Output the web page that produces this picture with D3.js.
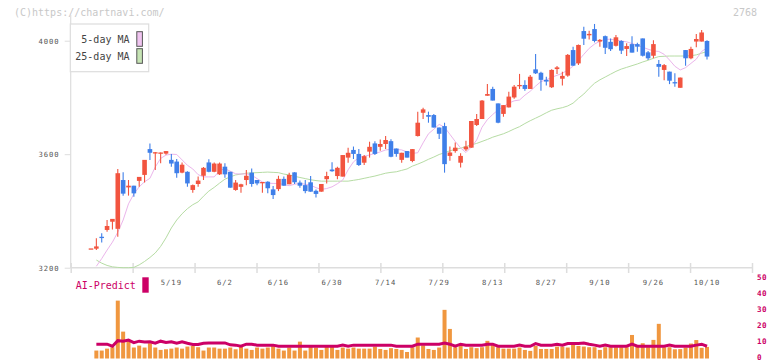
<!DOCTYPE html>
<html><head><meta charset="utf-8">
<script src="https://cdn.jsdelivr.net/npm/d3@7"></script>
<style>body{margin:0;background:#fff;} svg{display:block;}</style>
</head><body>
<svg id="chart" width="772" height="361"></svg>
<script>
const dates = ["4/23","4/24","4/25","4/28","4/30",
"5/1","5/2","5/7","5/8","5/9","5/12","5/13","5/14","5/15","5/16","5/19","5/20","5/21","5/22","5/23","5/26","5/27","5/28","5/29","5/30",
"6/2","6/3","6/4","6/5","6/6","6/9","6/10","6/11","6/12","6/13","6/16","6/17","6/18","6/19","6/20","6/23","6/24","6/25","6/26","6/27","6/30",
"7/1","7/2","7/3","7/4","7/7","7/8","7/9","7/10","7/11","7/14","7/15","7/16","7/17","7/18","7/22","7/23","7/24","7/25","7/28","7/29","7/30","7/31",
"8/1","8/4","8/5","8/6","8/7","8/8","8/12","8/13","8/14","8/15","8/18","8/19","8/20","8/21","8/22","8/25","8/26","8/27","8/28","8/29",
"9/1","9/2","9/3","9/4","9/5","9/8","9/9","9/10","9/11","9/12","9/16","9/17","9/18","9/19","9/22","9/24","9/25","9/26","9/29","9/30",
"10/1","10/2","10/3","10/6","10/7","10/8","10/9","10/10"];

const open = [3268,3267,3309,3333,3362,3337,3509,3483,3489,3506,
3527,3618,3605,3604,3602,3580,3574,3535,3538,3474,
3495,3524,3571,3538,3529,3556,3538,3474,3485,3509,
3535,3509,3500,3503,3476,3477,3513,3494,3536,3500,
3491,3501,3471,3468,3512,3546,3523,3521,3588,3615,
3601,3570,3609,3638,3626,3636,3646,3620,3580,3611,
3576,3664,3746,3738,3738,3694,3699,3594,3611,3570,
3617,3623,3703,3724,3806,3830,3779,3742,3765,3800,
3842,3844,3830,3899,3887,3862,3836,3900,3866,3877,
3967,3920,4034,4019,4041,3997,4016,3996,3982,3999,
3971,3988,3988,4008,3959,3947,3918,3897,3891,3854,
3834,3967,3938,3997,3997,3999];

const high = [3268,3304,3321,3368,3372,3548,3536,3509,3489,3520,
3580,3638,3608,3606,3611,3601,3583,3571,3540,3493,
3521,3555,3582,3571,3571,3568,3538,3509,3496,3544,
3550,3509,3502,3505,3488,3524,3521,3535,3536,3507,
3509,3523,3476,3495,3538,3572,3556,3597,3623,3627,
3618,3597,3644,3646,3652,3664,3653,3620,3605,3611,
3618,3750,3764,3750,3742,3694,3711,3627,3641,3603,
3647,3717,3742,3791,3847,3838,3779,3773,3820,3844,
3883,3861,3879,3953,3891,3873,3899,3911,3891,3953,
3979,3987,4049,4035,4059,4006,4018,4008,4020,4002,
3991,4016,3993,4008,3964,4002,3932,3918,3891,3885,
3870,3967,3979,4024,4038,4002];

const low = [3268,3262,3289,3327,3335,3309,3454,3454,3450,3485,
3500,3580,3544,3568,3598,3556,3517,3533,3485,3464,
3485,3509,3536,3536,3527,3517,3482,3471,3464,3491,
3485,3491,3464,3462,3442,3470,3489,3494,3495,3482,
3462,3468,3447,3468,3497,3538,3512,3521,3570,3583,
3558,3562,3588,3597,3612,3618,3589,3591,3570,3588,
3572,3662,3724,3711,3694,3654,3535,3577,3605,3553,
3611,3623,3699,3724,3806,3789,3709,3732,3765,3795,
3830,3824,3830,3883,3824,3842,3833,3883,3842,3873,
3912,3914,3985,4004,3994,3979,3953,3964,3980,3953,
3946,3958,3961,3944,3932,3938,3873,3861,3847,3838,
3834,3912,3935,3977,3997,3934];

const close = [3268,3275,3306,3347,3372,3533,3461,3489,3462,3520,
3580,3605,3607,3606,3611,3567,3533,3563,3497,3491,
3507,3552,3538,3567,3567,3529,3482,3500,3494,3524,
3495,3497,3502,3480,3456,3513,3489,3527,3501,3489,
3470,3468,3460,3495,3523,3540,3552,3597,3605,3601,
3562,3593,3626,3601,3636,3650,3591,3601,3605,3588,
3618,3711,3758,3732,3694,3672,3565,3606,3623,3594,
3627,3717,3724,3789,3812,3789,3711,3773,3803,3838,
3844,3830,3873,3885,3862,3856,3897,3906,3876,3950,
3912,3985,4007,4024,3999,4003,3975,3970,4012,3965,
3981,3958,3979,3947,3938,3988,3908,3914,3859,3852,
3870,3938,3971,4006,4029,3944];

const volume = [null,5.0,5.0,6.2,7.1,36.4,16.9,11.7,6.9,8.1,
6.9,9.6,6.9,5.4,5.8,6.2,6.9,6.2,7.5,7.9,
7.1,5.0,6.9,6.9,6.2,6.2,6.9,5.8,7.5,6.2,
5.4,6.9,6.2,6.9,8.1,6.2,5.0,6.9,5.0,10.6,
5.0,7.5,6.9,5.4,7.5,7.5,5.4,6.9,6.2,6.9,
6.2,6.2,6.2,7.5,6.0,5.4,6.5,6.0,5.4,4.1,
7.1,13.2,8.3,6.0,5.4,6.9,30.6,18.6,7.1,8.1,
6.0,7.1,6.5,7.1,11.1,8.6,7.1,6.2,6.2,6.2,
6.9,5.4,4.8,7.9,6.0,6.0,6.0,7.5,7.5,6.9,
8.6,7.9,7.5,7.1,7.1,5.4,7.1,7.1,7.1,7.1,
7.1,14.8,7.9,9.6,7.1,11.7,21.8,7.1,7.1,5.8,
5.9,6.9,9.4,11.6,6.7,7.3];

const aiPredict = [null,9.0,9.0,9.0,7.7,11.2,10.8,11.6,10.0,10.9,
10.4,10.5,9.6,10.9,10.1,10.5,9.6,10.5,9.6,8.8,
8.8,9.6,9.8,9.8,9.8,9.8,8.6,8.4,7.7,9.0,
9.0,8.4,8.4,8.4,8.4,7.7,7.7,7.7,7.7,7.7,
7.7,7.7,7.7,7.7,7.7,7.7,7.7,8.4,7.7,8.4,
8.4,8.4,8.4,8.4,8.4,8.4,8.4,7.7,7.7,7.7,
7.7,9.0,9.0,9.0,9.0,9.0,9.8,9.0,7.7,9.0,
8.4,8.4,8.4,8.4,9.0,9.0,7.7,7.7,7.7,7.7,
8.4,7.7,7.7,9.4,8.4,8.4,8.4,9.0,8.4,9.4,
9.4,9.4,9.8,9.0,8.4,7.7,8.4,7.7,7.7,7.7,
7.7,9.0,7.7,7.7,7.7,7.7,7.7,7.7,8.4,7.7,
7.7,7.7,7.7,8.4,9.0,7.7];

const ma5 = [null,3205,3232,3262,3290,3325,3368,3425,3460,3485,
3503,3515,3555,3585,3597,3600,3599,3580,3561,3548,
3528,3520,3520,3520,3542,3549,3540,3531,3530,3531,
3526,3514,3502,3498,3497,3497,3493,3489,3494,3497,
3494,3491,3482,3476,3479,3485,3496,3509,3545,3573,
3588,3593,3597,3603,3608,3615,3617,3617,3615,3608,
3603,3605,3640,3672,3688,3705,3695,3670,3645,3622,
3606,3625,3650,3695,3722,3740,3756,3768,3780,3788,
3791,3808,3822,3840,3856,3862,3871,3878,3885,3897,
3910,3930,3952,3973,3988,3998,4005,4005,4002,3999,
3996,3990,3984,3977,3970,3964,3962,3952,3932,3910,
3897,3905,3920,3935,3962,3975];

const ma25 = [null,3227,3216,3208,3203,3201,3200,3200,3201,3210,
3222,3236,3252,3275,3305,3340,3368,3390,3408,3422,
3432,3452,3470,3483,3498,3512,3520,3527,3530,3533,
3534,3535,3536,3537,3536,3535,3530,3527,3522,3518,
3514,3510,3507,3505,3505,3505,3505,3505,3505,3508,
3511,3515,3519,3523,3528,3533,3536,3538,3543,3548,
3558,3565,3573,3582,3590,3599,3605,3612,3617,3621,
3627,3633,3638,3645,3652,3660,3666,3672,3680,3689,
3697,3708,3718,3727,3736,3746,3755,3760,3764,3770,
3780,3797,3812,3832,3850,3862,3872,3882,3892,3900,
3906,3912,3918,3925,3931,3938,3944,3945,3946,3946,
3946,3946,3947,3950,3956,3962];

const priceTicks = [3200, 3600, 4000];
const volumeTicks = [0, 10, 20, 30, 40, 50];
const dateTicks = ["5/19","6/2","6/16","6/30","7/14","7/29","8/13","8/27","9/10","9/26","10/10"];

const MONO = "'DejaVu Sans Mono', monospace";
const RED = "#f2543f", BLUE = "#3f7fe9", AI = "#cc0066";

const svg = d3.select("#chart");
const x = d3.scaleLinear().domain([-3.79, 123.4]).range([70.7, 752]);
const y = d3.scaleLinear().domain([3200, 4000]).range([267.7, 40.7]);
const yv = d3.scaleLinear().domain([0, 50]).range([358.5, 279]);
const idx = d3.range(dates.length);

// header
svg.append("text").attr("x", 14).attr("y", 12.3).attr("dy", "0.35em")
  .attr("font-family", MONO).attr("font-size", 10).attr("fill", "#c8c8c8")
  .text("(C)https://chartnavi.com/");
svg.append("text").attr("x", 757).attr("y", 12.3).attr("dy", "0.35em").attr("text-anchor", "end")
  .attr("font-family", MONO).attr("font-size", 10).attr("fill", "#c8c8c8").text("2768");

// left axis
svg.append("line").attr("x1", 70.7).attr("x2", 70.7).attr("y1", 15).attr("y2", 268)
  .attr("stroke", "#dddddd").attr("stroke-width", 1.2);
const ga = svg.append("g").attr("transform", "translate(70.7,0)")
  .call(d3.axisLeft(y).tickValues(priceTicks).tickSize(6).tickPadding(5).tickFormat(d3.format("d")));
ga.select(".domain").remove();
ga.selectAll("line").attr("stroke", "#dddddd");
ga.selectAll("text").attr("font-family", MONO).attr("font-size", 7.2)
  .attr("letter-spacing", 1).attr("fill", "#555");

// bottom axis ticks
const d0 = x.domain()[0], d1 = x.domain()[1];
const gridIdx = d3.range(12).map(k => d0 + k * (d1 - d0) / 11);
const gb = svg.append("g").attr("transform", "translate(0,263)")
  .call(d3.axisBottom(x).tickValues(gridIdx).tickSize(10).tickFormat(""));
gb.select(".domain").remove();
gb.selectAll("line").attr("stroke", "#dddddd").attr("stroke-width", 1.5);
svg.append("line").attr("x1", x(d0)).attr("x2", x(d1)).attr("y1", 267.7).attr("y2", 267.7)
  .attr("stroke", "#dddddd").attr("stroke-width", 1.5);

// date labels
svg.append("g").selectAll("text").data(dateTicks).join("text")
  .attr("x", d => x(dates.indexOf(d))).attr("y", 282.3).attr("dy", "0.35em")
  .attr("text-anchor", "middle").attr("font-family", MONO).attr("font-size", 7.2)
  .attr("letter-spacing", 1).attr("fill", "#555").text(d => d);

// moving averages
const lineGen = d3.line().defined(d => d[1] != null).x(d => x(d[0])).y(d => y(d[1]));
svg.append("path").datum(idx.map(i => [i, ma25[i]])).attr("d", lineGen)
  .attr("fill", "none").attr("stroke", "#b6dca4").attr("stroke-width", 1);
svg.append("path").datum(idx.map(i => [i, ma5[i]])).attr("d", lineGen)
  .attr("fill", "none").attr("stroke", "#ebb5eb").attr("stroke-width", 1);

// candles
const cw = 4.6;
const gc = svg.append("g");
gc.selectAll("line").data(idx).join("line")
  .attr("x1", i => x(i)).attr("x2", i => x(i))
  .attr("y1", i => y(high[i])).attr("y2", i => y(low[i]))
  .attr("stroke", i => close[i] >= open[i] ? RED : BLUE).attr("stroke-width", 1.1);
gc.selectAll("rect").data(idx).join("rect")
  .attr("x", i => x(i) - cw / 2).attr("width", cw)
  .attr("y", i => y(Math.max(open[i], close[i])))
  .attr("height", i => Math.max(1.3, Math.abs(y(open[i]) - y(close[i]))))
  .attr("fill", i => close[i] >= open[i] ? RED : BLUE);

// legend
svg.append("rect").attr("x", 70.3).attr("y", 24).attr("width", 78.4).attr("height", 47.7)
  .attr("fill", "#fff").attr("stroke", "#dddddd").attr("stroke-width", 1.2);
const legend = [["5-day MA", "#f0c4f0", 39], ["25-day MA", "#c6e4b4", 56]];
legend.forEach(([t, c, cy]) => {
  svg.append("text").attr("x", 129.5).attr("y", cy).attr("dy", "0.35em").attr("text-anchor", "end")
    .attr("font-family", MONO).attr("font-size", 10).attr("fill", "#444").text(t);
  svg.append("rect").attr("x", 136.8).attr("y", cy - 7.3).attr("width", 5.6).attr("height", 14.6)
    .attr("fill", c).attr("stroke", "#555").attr("stroke-width", 1);
});

// volume panel
svg.append("g").selectAll("rect").data(idx.filter(i => volume[i] != null)).join("rect")
  .attr("x", i => x(i) - 2).attr("width", 4)
  .attr("y", i => yv(volume[i])).attr("height", i => yv(0) - yv(volume[i]))
  .attr("fill", "#f0973f");
const aiLine = d3.line().defined(d => d[1] != null).x(d => x(d[0])).y(d => yv(d[1]));
svg.append("path").datum(idx.map(i => [i, aiPredict[i]])).attr("d", aiLine)
  .attr("fill", "none").attr("stroke", AI).attr("stroke-width", 3);

const gr = svg.append("g").attr("transform", "translate(752,-1.6)")
  .call(d3.axisRight(yv).tickValues(volumeTicks).tickSize(0).tickPadding(5));
gr.select(".domain").remove();
gr.selectAll("text").attr("font-family", MONO).attr("font-size", 7.6).attr("font-weight", "bold")
  .attr("letter-spacing", 0.5).attr("fill", AI);

svg.append("text").attr("x", 75.7).attr("y", 285.5).attr("dy", "0.35em")
  .attr("font-family", MONO).attr("font-size", 10).attr("fill", AI).text("AI-Predict");
svg.append("rect").attr("x", 142.3).attr("y", 277.3).attr("width", 6.4).attr("height", 15.4).attr("fill", AI);
</script>
</body></html>
